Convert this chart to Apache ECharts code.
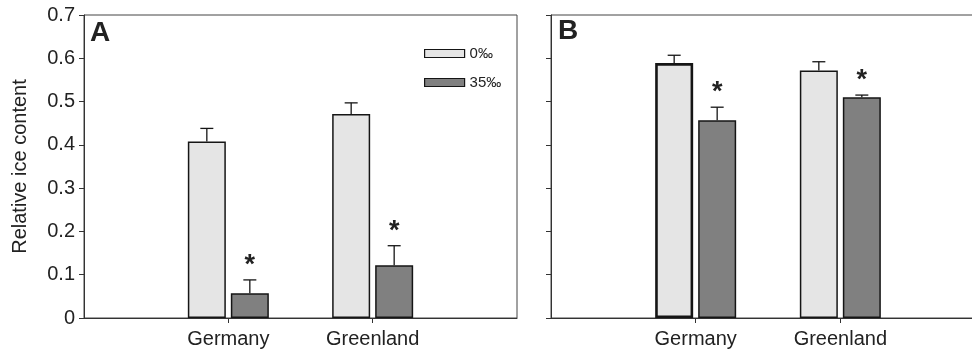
<!DOCTYPE html>
<html>
<head>
<meta charset="utf-8">
<script src="https://cdn.jsdelivr.net/npm/echarts@6/dist/echarts.min.js"></script>
<style>html,body{margin:0;padding:0;background:#fff}#c{width:972px;height:356px}</style>
</head>
<body>
<div id="c"></div>
<script>
// ---- data ----
const categories = ['Germany', 'Greenland'];
const seriesNames = ['0\u2030', '35\u2030'];
// Panel A
const A_fresh = [0.408, 0.471];
const A_fresh_err = [0.030, 0.026];
const A_salt = [0.057, 0.122];
const A_salt_err = [0.031, 0.045];
const A_salt_sig = [1, 1];
// Panel B
const B_fresh = [0.589, 0.572];
const B_fresh_err = [0.018, 0.020];
const B_salt = [0.457, 0.510];
const B_salt_err = [0.030, 0.005];
const B_salt_sig = [1, 1];
const yTicks = [0, 0.1, 0.2, 0.3, 0.4, 0.5, 0.6, 0.7];

// ---- style ----
const FONT = 'Liberation Sans, Arial, sans-serif';
const LIGHT = '#e5e5e5', DARK = '#808080', EDGE = '#151515';
const BAR_W = 38, GAP_PX = 5;
const axisData = [''].concat(categories, ['']);

function pad(arr) { return [null].concat(arr, [null]); }

function xAxisFor(gi) {
  return {
    type: 'category', gridIndex: gi, data: axisData, boundaryGap: false,
    axisLine: {lineStyle: {color: '#333', width: 1}},
    axisTick: {show: true, length: 5, interval: (i) => i === 1 || i === 2, lineStyle: {color: '#333'}},
    axisLabel: {show: true, interval: 0, margin: 11, fontFamily: FONT, fontSize: 20, color: '#222'},
    splitLine: {show: false}
  };
}
function yAxisFor(gi, showLabel) {
  return {
    type: 'value', gridIndex: gi, min: yTicks[0], max: yTicks[yTicks.length - 1], interval: 0.1,
    name: showLabel ? 'Relative ice content' : '', nameLocation: 'middle', nameGap: 54,
    nameTextStyle: {fontFamily: FONT, fontSize: 20, color: '#222'},
    axisLine: {show: true, lineStyle: {color: '#333', width: 1}},
    axisTick: {show: true, length: 5, lineStyle: {color: '#333'}},
    axisLabel: {show: showLabel, margin: 9, fontFamily: FONT, fontSize: 20, color: '#222'},
    splitLine: {show: false}
  };
}

function barSeries(name, gi, values, color, thickIdx) {
  const data = pad(values).map((v, i) => {
    if (v === null) return null;
    if (thickIdx !== undefined && i === thickIdx) return {value: v, itemStyle: {borderWidth: 2.6}};
    return v;
  });
  return {
    name: name, type: 'bar', xAxisIndex: gi, yAxisIndex: gi,
    barWidth: BAR_W, barGap: (GAP_PX / BAR_W * 100) + '%',
    itemStyle: {color: color, borderColor: EDGE, borderWidth: 1.5},
    data: data, z: 2
  };
}

function errSeries(gi, values, errs, sig, side) {
  const data = values.map((v, i) => [i + 1, v, errs[i], sig ? sig[i] : 0]);
  return {
    type: 'custom', xAxisIndex: gi, yAxisIndex: gi, z: 5, silent: true,
    renderItem: function (params, api) {
      const p = api.coord([api.value(0), api.value(1)]);
      const t = api.coord([api.value(0), api.value(1) + api.value(2)]);
      const x = p[0] + side * (BAR_W + GAP_PX) / 2;
      const children = [
        {type: 'line', shape: {x1: x, y1: p[1], x2: x, y2: t[1]}, style: {stroke: EDGE, lineWidth: 1.3}},
        {type: 'line', shape: {x1: x - 6.5, y1: t[1], x2: x + 6.5, y2: t[1]}, style: {stroke: EDGE, lineWidth: 1.3}}
      ];
      if (api.value(3)) {
        children.push({type: 'text', style: {text: '*', x: x, y: t[1] - 1, align: 'center', verticalAlign: 'bottom',
          font: 'bold 27px ' + FONT, fill: '#222'}});
      }
      return {type: 'group', children: children};
    },
    data: data
  };
}

const chart = echarts.init(document.getElementById('c'));
chart.setOption({
  animation: false,
  backgroundColor: '#fff',
  grid: [
    {left: 84, top: 15, width: 433, height: 303, show: true, borderColor: '#444', borderWidth: 1, backgroundColor: 'transparent', outerBoundsMode: 'none', containLabel: false},
    {left: 551, top: 15, width: 434, height: 303, show: true, borderColor: '#444', borderWidth: 1, backgroundColor: 'transparent', outerBoundsMode: 'none', containLabel: false}
  ],
  xAxis: [xAxisFor(0), xAxisFor(1)],
  yAxis: [yAxisFor(0, true), yAxisFor(1, false)],
  legend: {
    data: seriesNames, orient: 'vertical', left: 419, top: 41, itemWidth: 40, itemHeight: 8, itemGap: 14,
    icon: 'rect', textStyle: {fontFamily: FONT, fontSize: 15, color: '#222'},
    itemStyle: {borderWidth: 1.2},
    selectedMode: false
  },
  graphic: [
    {type: 'text', left: 90, top: 19, style: {text: 'A', font: 'bold 28px ' + FONT, fill: '#222'}},
    {type: 'text', left: 558, top: 17, style: {text: 'B', font: 'bold 28px ' + FONT, fill: '#222'}}
  ],
  series: [
    barSeries(seriesNames[0], 0, A_fresh, LIGHT),
    barSeries(seriesNames[1], 0, A_salt, DARK),
    barSeries(seriesNames[0], 1, B_fresh, LIGHT, 1),
    barSeries(seriesNames[1], 1, B_salt, DARK),
    errSeries(0, A_fresh, A_fresh_err, null, -1),
    errSeries(0, A_salt, A_salt_err, A_salt_sig, 1),
    errSeries(1, B_fresh, B_fresh_err, null, -1),
    errSeries(1, B_salt, B_salt_err, B_salt_sig, 1)
  ]
});
</script>
</body>
</html>
